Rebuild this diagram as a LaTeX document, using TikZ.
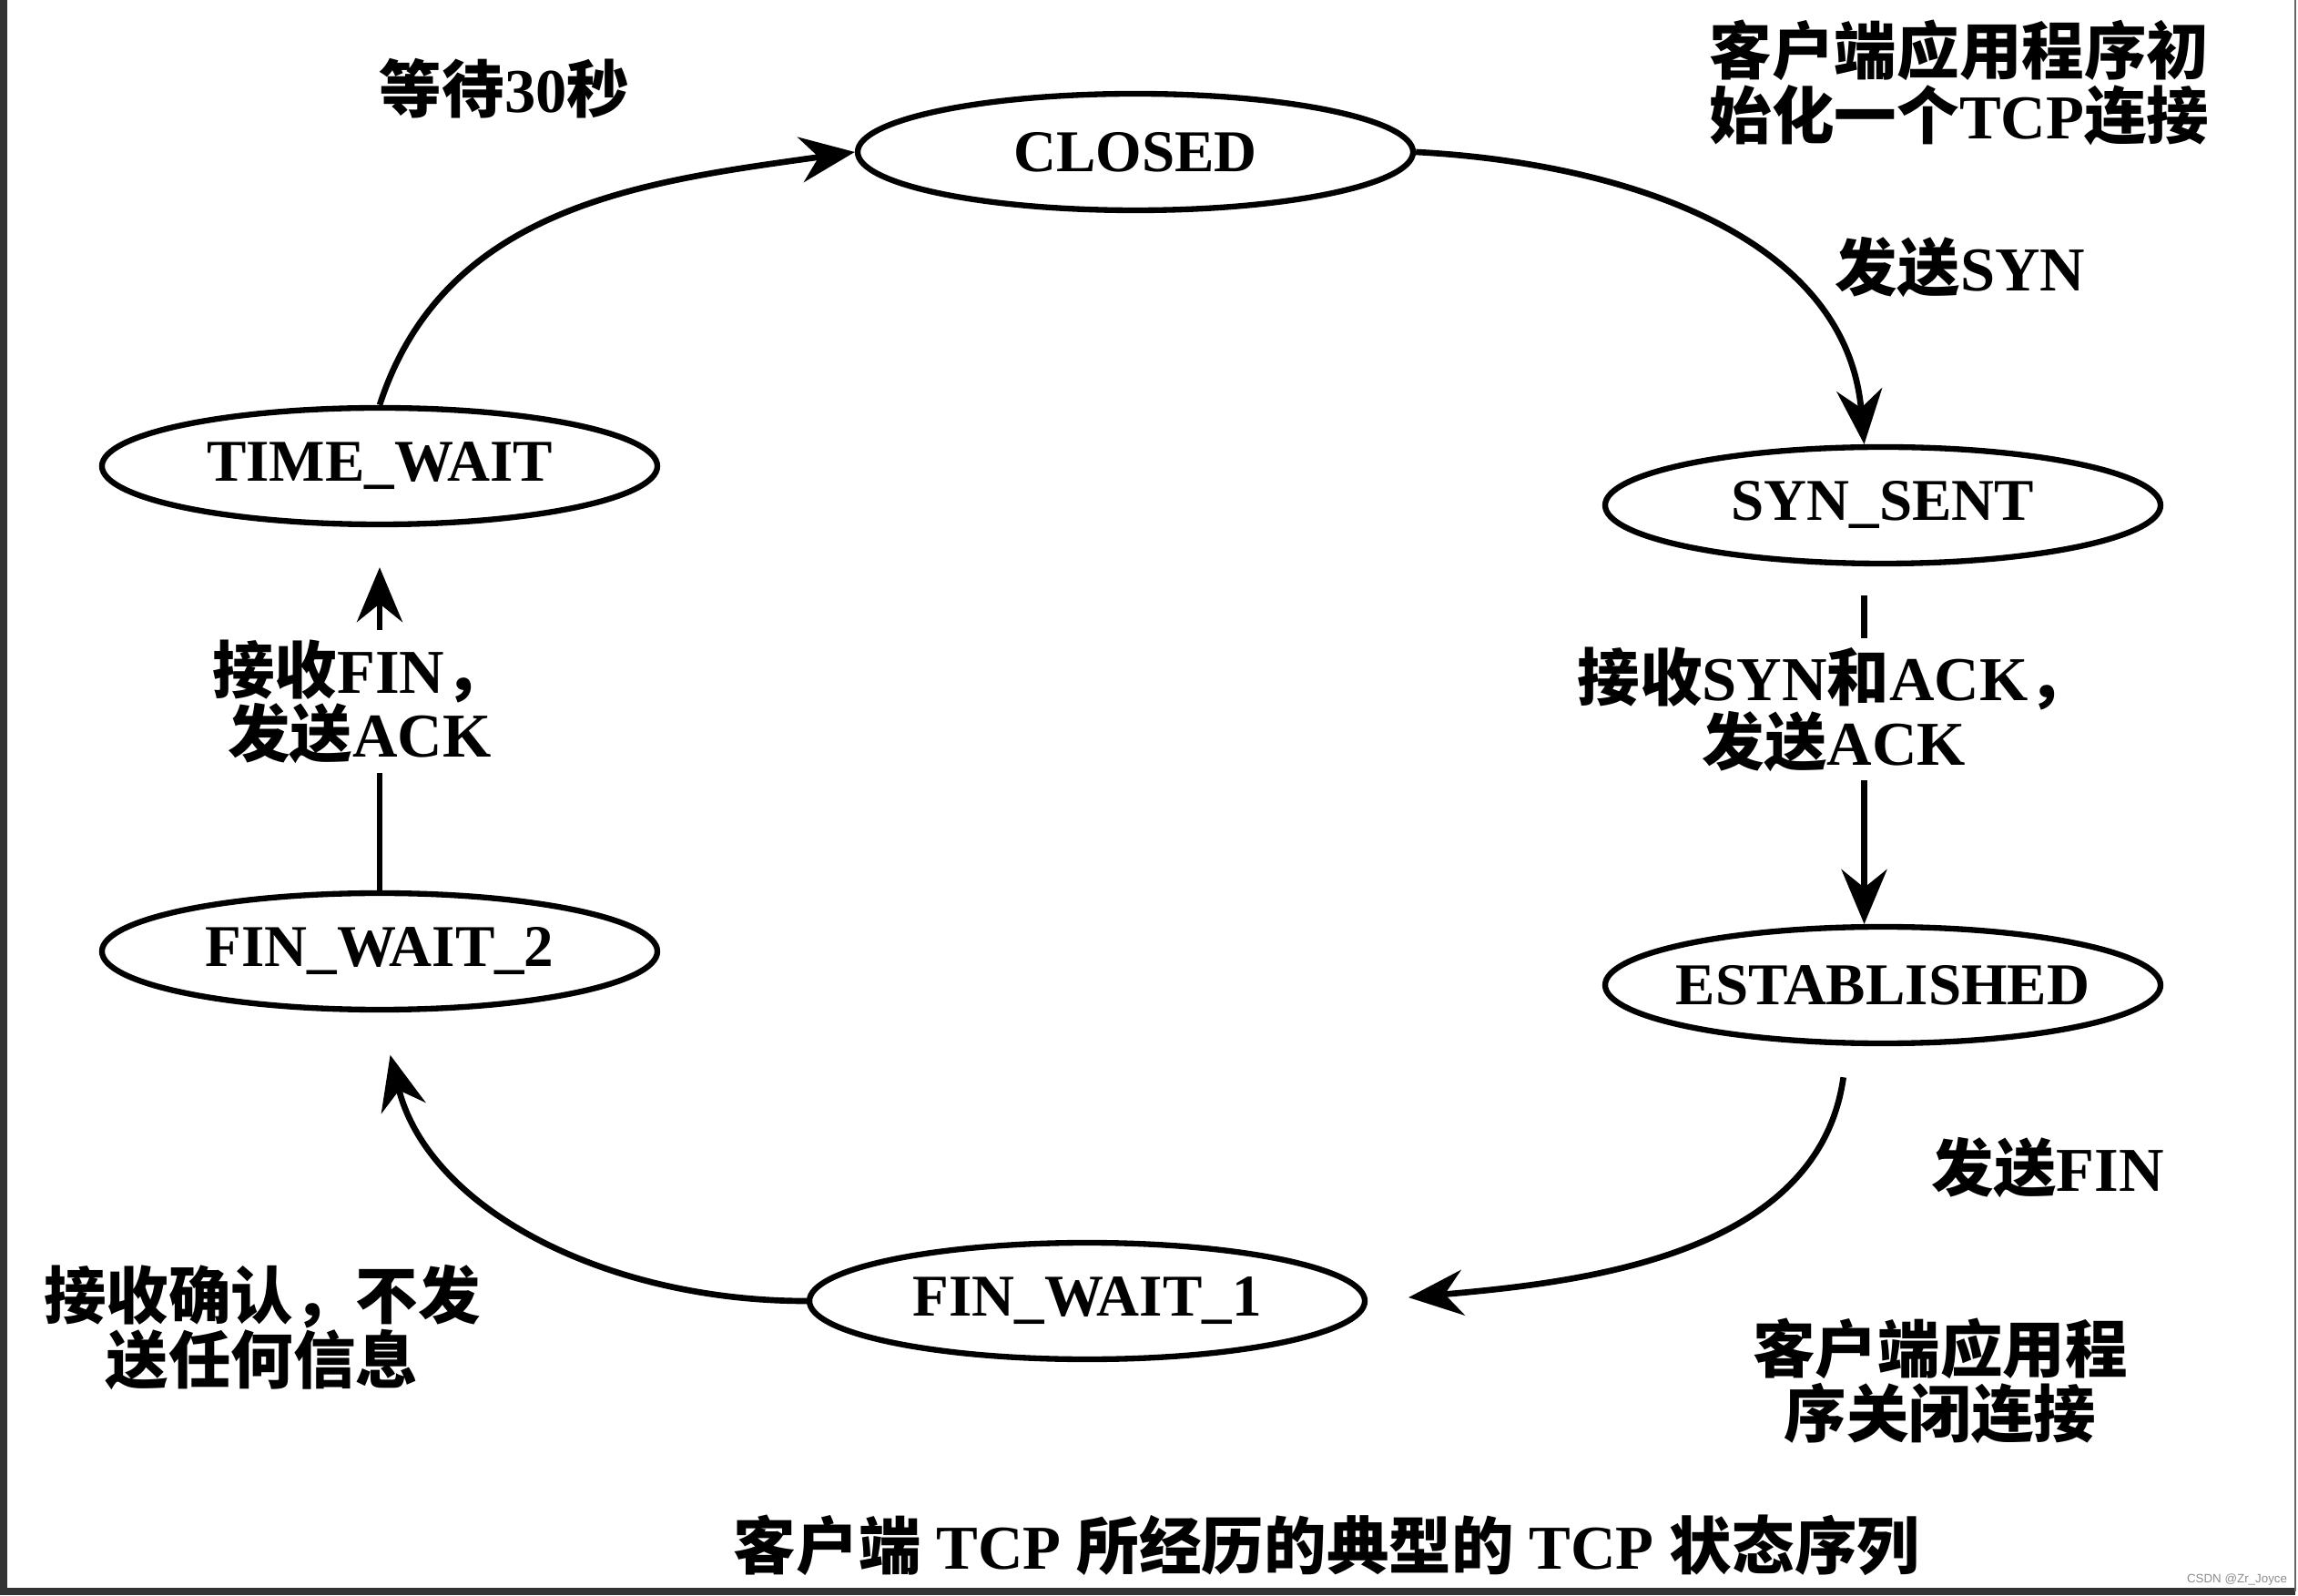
\documentclass[tikz,border=0pt]{standalone}
\usepackage{fontspec}
\setmainfont{Liberation Serif}
\setsansfont{Liberation Sans}
\newfontfamily\cjk{Noto Sans CJK SC}
\newcommand\zh[1]{{\cjk #1}}
\usepackage{tikz}
\usetikzlibrary{arrows.meta,shapes.geometric}
\tikzset{
  tcp_st/.style = {ellipse, draw=black, line width=1.8pt, minimum width=6.1cm,
    minimum height=1.28cm, inner xsep=-0.4cm, inner ysep=0pt,
    font=\fontsize{18.5}{20}\selectfont\bfseries},% etat TCP
  tcp_lbl/.style = {align=center, inner sep=0pt,
    font=\fontsize{19.5}{20}\selectfont\bfseries},% texte libre
  tcp_cut/.style = {tcp_lbl, fill=white, inner ysep=0.1cm, inner xsep=0.1cm}% texte qui coupe une fleche
}

\begin{document}
\begin{tikzpicture}[>={Stealth[length=6mm,width=5mm,inset=2mm]}, line width=1.9pt]
    \useasboundingbox (0,0) rectangle (25.24,17.52);
    \draw[black!80, line width=2pt] (0.04,17.52) -- (0.04,0.04) -- (25.21,0.04);
    \draw[black!60, line width=0.8pt] (25.21,0.04) -- (25.21,17.52);

    % etats
    \node [tcp_st] (cl)  at (12.47,15.85) {CLOSED};
    \node [tcp_st] (ss)  at (20.68,11.97) {SYN\_SENT};
    \node [tcp_st] (es)  at (20.68,6.70)  {ESTABLISHED};
    \node [tcp_st] (fw1) at (11.94,3.23)  {FIN\_WAIT\_1};
    \node [tcp_st] (fw2) at (4.17,7.07)   {FIN\_WAIT\_2};
    \node [tcp_st] (tw)  at (4.17,12.40)  {TIME\_WAIT};

    % textes
    \node [tcp_lbl] (wait) at (5.54,16.55) {\zh{等待}30\zh{秒}};
    \node [tcp_lbl] (init) at (21.52,16.61) {\zh{客户端应用程序初}\\\zh{始化一个}TCP\zh{连接}};
    \node [tcp_lbl] (syn)  at (21.53,14.58) {\zh{发送}SYN};
    \node [tcp_lbl] (fin)  at (22.49,4.69)  {\zh{发送}FIN};
    \node [tcp_lbl] (shut) at (21.31,2.35)  {\zh{客户端应用程}\\\zh{序关闭连接}};
    \node [tcp_lbl] (ackd) at (2.88,2.94)   {\zh{接收确认，不发}\\\zh{送任何信息}};
    \node [tcp_lbl] (cap)  at (14.57,0.55)  {\zh{客户端} TCP \zh{所经历的典型的} TCP \zh{状态序列}};
    \node [font=\sffamily\fontsize{3.8}{4}\selectfont, text=black!45, inner sep=0pt] (mark)
        at (24.57,0.17) {CSDN @Zr\_Joyce};

    % transitions
    \draw [->] (tw.north) to[out=72,in=188] (cl.west);
    \draw [->] (cl.east) to[out=-3,in=95] (ss.107);
    \draw [->, shorten <=0.32cm] (ss.253) -- node[tcp_cut, pos=0.4, xshift=-0.33cm] (synack)
        {\zh{接收}SYN\zh{和}ACK\zh{，}\\\zh{发送}ACK} (es.107);
    \draw [->, shorten <=0.35cm, shorten >=0.45cm] (es.240) to[out=262,in=5] (fw1.east);
    \draw [->, shorten >=0.48cm] (fw1.west) to[out=180,in=-76] (fw2.south);
    \draw [->, shorten >=0.44cm] (fw2.north) -- node[tcp_cut, pos=0.52, xshift=-0.22cm] (finack)
        {\zh{接收}FIN\zh{，}\\\zh{发送}ACK} (tw.south);
\end{tikzpicture}
\end{document}
